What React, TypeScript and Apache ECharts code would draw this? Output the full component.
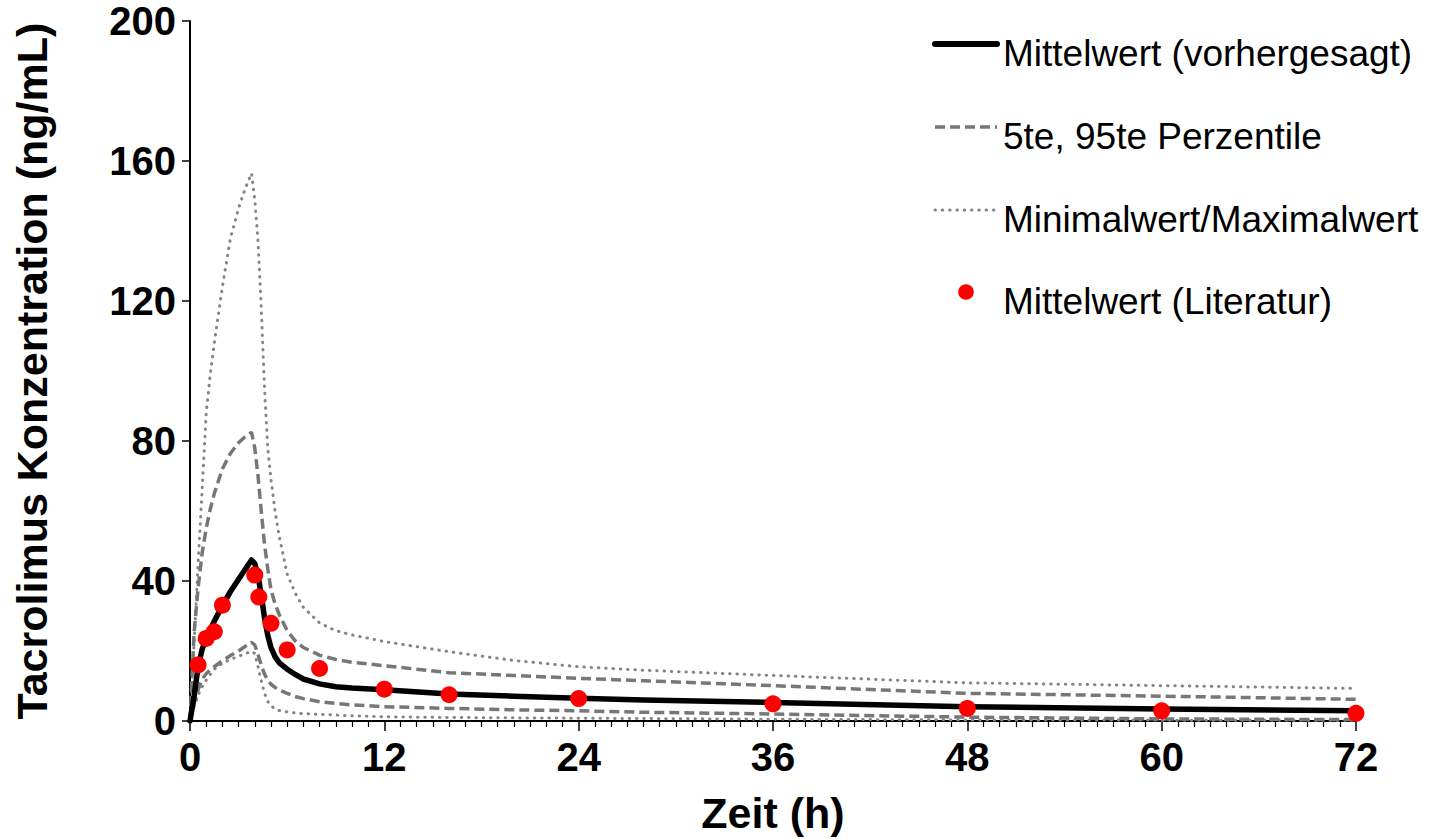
import React, { useEffect, useRef } from "react";
import * as echarts from "echarts";

// Simulated concentration–time profiles (hours, ng/mL)
const TIME = [0, 0.25, 0.5, 0.75, 1, 1.25, 1.5, 2, 2.5, 3, 3.4, 3.8, 4.0, 4.2, 4.4, 4.6, 4.8, 5.0, 5.25, 5.5, 6, 6.5, 7, 8, 9, 10, 12, 16, 20, 24, 28, 36, 48, 60, 72];
const MEAN_PRED = [0, 7, 15.5, 20.5, 23.5, 26, 28.5, 33, 37, 40.5, 43.3, 46, 45, 41.5, 36, 29.5, 24.5, 21.0, 18.4, 16.7, 14.8, 13.3, 12.0, 10.6, 9.8, 9.4, 8.9, 7.7, 7.1, 6.5, 6.0, 5.3, 4.1, 3.4, 2.9];
const P95 = [0, 25, 38, 48, 55, 60.5, 65, 72, 76.5, 79.5, 81.2, 82.5, 78, 70, 60, 50.5, 43.5, 37.5, 33.5, 30.5, 25.8, 22.9, 21, 18.8, 17.6, 16.8, 15.8, 13.8, 13.0, 12.2, 11.5, 10.1, 7.9, 7.1, 6.2];
const P5 = [0, 5, 9, 12, 13.5, 14.6, 15.5, 17.2, 18.7, 20, 21.3, 22.5, 21.7, 19, 16, 13.4, 11.7, 10.5, 9.6, 8.9, 7.9, 7.0, 6.4, 5.5, 5.0, 4.6, 4.1, 3.6, 3.2, 2.9, 2.5, 2.0, 1.1, 0.6, 0.4];
const MAX = [0, 22, 45, 66, 88, 99, 108, 124, 138, 146.5, 152, 156.5, 149, 137, 118, 95, 78, 69, 60, 53, 42, 36.5, 32.5, 28, 25.8, 24.6, 22.7, 19.8, 17.3, 15.5, 14.5, 13.0, 10.9, 10.1, 9.3];
const MIN = [0, 4, 7.4, 9.8, 11.7, 13.3, 14.8, 16.5, 17.6, 18.5, 19.2, 19.9, 19.3, 15.5, 11.5, 8, 5.6, 4.3, 3.5, 3.0, 2.6, 2.3, 2.1, 1.9, 1.7, 1.5, 1.2, 1.0, 0.9, 0.8, 0.7, 0.5, 0.3, 0.25, 0.2];

// Observed mean values from the literature
const LIT_TIME = [0.5, 1, 1.5, 2, 4, 4.25, 5, 6, 8, 12, 16, 24, 36, 48, 60, 72];
const LIT_MEAN = [16, 23.6, 25.5, 33.1, 41.7, 35.4, 27.9, 20.3, 15.0, 9.1, 7.5, 6.4, 4.9, 3.6, 2.9, 2.2];

const X_TICKS = [0, 12, 24, 36, 48, 60, 72];
const Y_TICKS = [0, 40, 80, 120, 160, 200];

const NAME_MEAN = "Mittelwert (vorhergesagt)";
const NAME_PCT = "5te, 95te Perzentile";
const NAME_MINMAX = "Minimalwert/Maximalwert";
const NAME_LIT = "Mittelwert (Literatur)";
const LEGEND_NAMES = [NAME_MEAN, NAME_PCT, NAME_MINMAX, NAME_LIT];

const FONT = "'Liberation Sans', Arial, Helvetica, sans-serif";

const zip = (xs: number[], ys: number[]) => xs.map((x, i) => [x, ys[i]]);

const SOLID = { color: "#000000", width: 5.5, type: "solid", cap: "round" as const, join: "round" as const };
const DASH = { color: "#777777", width: 3.5, type: [10, 5] as number[], cap: "butt" as const };
const DOT = { color: "#858585", width: 3, type: [0.5, 6.8] as number[], cap: "round" as const };
const DOT_COLOR = "#ff0000";

// Legend block (top right): sample glyph column and text column
const LEG_X0 = 935;
const LEG_X1 = 997;
const LEG_TEXT_X = 1003;
const LEG_ICON_Y = [44, 127, 210, 292];
const LEG_TEXT_DY = 9;

function legendGraphics() {
  const els: any[] = [];
  const lineIcon = (y: number, s: any) => ({
    type: "line",
    shape: { x1: LEG_X0, y1: y, x2: LEG_X1, y2: y },
    style: {
      stroke: s.color,
      lineWidth: s.width,
      lineDash: Array.isArray(s.type) ? s.type : null,
      lineCap: s.cap,
    },
    silent: true,
  });
  els.push(lineIcon(LEG_ICON_Y[0], { ...SOLID, width: 6 }));
  els.push(lineIcon(LEG_ICON_Y[1], DASH));
  els.push(lineIcon(LEG_ICON_Y[2], DOT));
  els.push({
    type: "circle",
    shape: { cx: (LEG_X0 + LEG_X1) / 2, cy: LEG_ICON_Y[3], r: 7.8 },
    style: { fill: DOT_COLOR },
    silent: true,
  });
  LEGEND_NAMES.forEach((name, i) => {
    els.push({
      type: "text",
      x: LEG_TEXT_X,
      y: LEG_ICON_Y[i] + LEG_TEXT_DY,
      style: {
        text: name,
        fontSize: 37,
        fontFamily: FONT,
        fill: "#000",
        verticalAlign: "middle",
        align: "left",
      },
      silent: true,
    });
  });
  return els;
}

export default function App() {
  const ref = useRef<HTMLDivElement>(null);

  useEffect(() => {
    if (!ref.current) return;
    const chart = echarts.init(ref.current, undefined, { renderer: "svg" });

    const lineSeries = (name: string, ys: number[], style: any, z: number) => ({
      name,
      type: "line",
      data: zip(TIME, ys),
      showSymbol: false,
      symbol: "none",
      smooth: false,
      lineStyle: style,
      itemStyle: { color: style.color },
      z,
    });

    chart.setOption({
      animation: false,
      backgroundColor: "#ffffff",
      textStyle: { fontFamily: FONT },
      grid: { left: 190, right: 84, top: 21, bottom: 118, containLabel: false },
      graphic: legendGraphics(),
      xAxis: {
        type: "value",
        min: X_TICKS[0],
        max: X_TICKS[X_TICKS.length - 1],
        interval: 12,
        name: "Zeit (h)",
        nameLocation: "middle",
        nameGap: 70,
        nameTextStyle: { fontSize: 43, fontWeight: "bold", color: "#000", fontFamily: FONT },
        axisLine: { show: true, lineStyle: { color: "#000", width: 2 } },
        axisTick: { show: true, length: 10, lineStyle: { color: "#000", width: 1.5 } },
        minorTick: { show: true, splitNumber: 12, length: 6, lineStyle: { color: "#000", width: 1.2 } },
        axisLabel: { fontSize: 40, fontWeight: "bold", color: "#000", margin: 16, fontFamily: FONT },
        splitLine: { show: false },
        minorSplitLine: { show: false },
      },
      yAxis: {
        type: "value",
        min: Y_TICKS[0],
        max: Y_TICKS[Y_TICKS.length - 1],
        interval: 40,
        name: "Tacrolimus Konzentration (ng/mL)",
        nameLocation: "middle",
        nameRotate: 90,
        nameGap: 137,
        nameTextStyle: { fontSize: 43, fontWeight: "bold", color: "#000", fontFamily: FONT },
        axisLine: { show: true, lineStyle: { color: "#000", width: 2 } },
        axisTick: { show: true, length: 8, lineStyle: { color: "#000", width: 1.5 } },
        axisLabel: { fontSize: 40, fontWeight: "bold", color: "#000", margin: 14, fontFamily: FONT },
        splitLine: { show: false },
      },
      series: [
        lineSeries(NAME_MINMAX, MAX, DOT, 1),
        lineSeries(NAME_MINMAX, MIN, DOT, 1),
        lineSeries(NAME_PCT, P95, DASH, 2),
        lineSeries(NAME_PCT, P5, DASH, 2),
        lineSeries(NAME_MEAN, MEAN_PRED, SOLID, 3),
        {
          name: NAME_LIT,
          type: "scatter",
          data: zip(LIT_TIME, LIT_MEAN),
          symbol: "circle",
          symbolSize: 17,
          itemStyle: { color: DOT_COLOR, opacity: 1 },
          z: 4,
        },
      ],
    });

    return () => chart.dispose();
  }, []);

  return (
    <div
      ref={ref}
      style={{ position: "fixed", left: 0, top: 0, width: 1440, height: 839, background: "#fff" }}
    />
  );
}
